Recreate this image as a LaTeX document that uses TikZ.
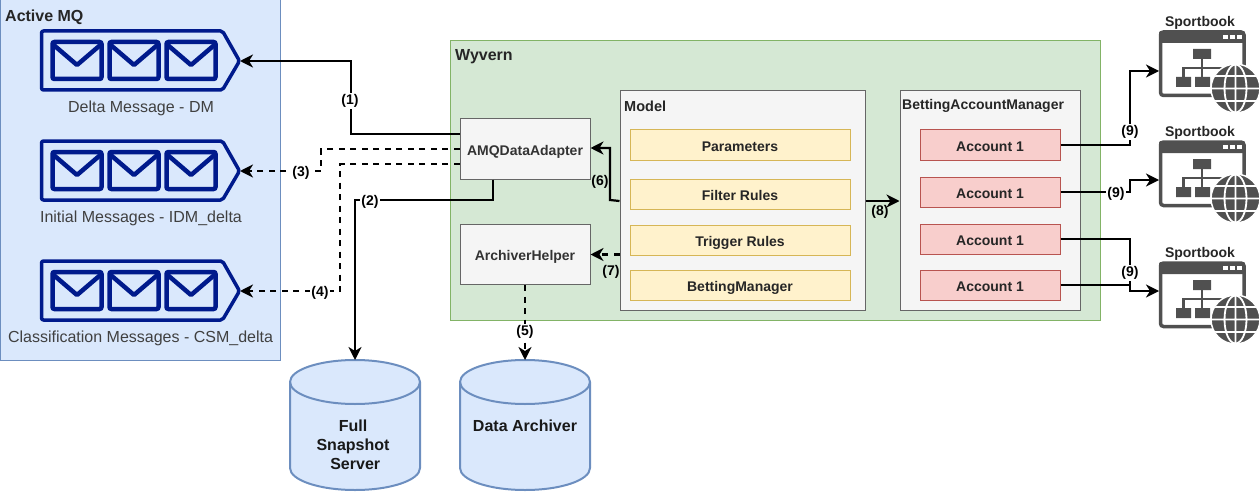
\documentclass[tikz,border=0pt]{standalone}
\usepackage{fontspec}
\setmainfont{Liberation Sans}
\usetikzlibrary{arrows.meta}
\definecolor{mqblue}{HTML}{DAE8FC}
\definecolor{mqedge}{HTML}{6C8EBF}
\definecolor{wyvfill}{HTML}{D5E8D4}
\definecolor{wyvedge}{HTML}{82B366}
\definecolor{rowyellow}{HTML}{FFF2CC}
\definecolor{rowyedge}{HTML}{D6B656}
\definecolor{rowred}{HTML}{F8CECC}
\definecolor{rowredge}{HTML}{B85450}
\definecolor{boxgrey}{HTML}{F5F5F5}
\definecolor{boxedge}{HTML}{666666}
\definecolor{navyicon}{HTML}{001A8C}
\definecolor{sitegrey}{HTML}{505050}
\tikzset{
	groupbox/.style={draw=#1, line width=1pt, inner sep=0pt},
	plainbox/.style={draw=boxedge, fill=boxgrey, line width=1pt, inner sep=0pt, minimum width=130pt, minimum height=60pt, text height=14pt, text depth=2pt, font=\bfseries\fontsize{14}{16}\selectfont, text=black!80},
	yellowrow/.style={draw=rowyedge, fill=rowyellow, line width=1pt, inner sep=0pt, minimum width=220pt, minimum height=30pt, text height=14pt, text depth=2pt, font=\bfseries\fontsize{14}{16}\selectfont, text=black!85},
	redrow/.style={draw=rowredge, fill=rowred, line width=1pt, inner sep=0pt, minimum width=140pt, minimum height=30pt, text height=14pt, text depth=2pt, font=\bfseries\fontsize{14}{16}\selectfont, text=black!85},
	titletext/.style={anchor=west, inner sep=0pt, font=\bfseries\fontsize{#1}{16}\selectfont, text=black!85},
	msgtext/.style={inner sep=0pt, font=\fontsize{16}{18}\selectfont, text=black!75},
	dbtext/.style={inner sep=0pt, align=center, font=\bfseries\fontsize{16}{19}\selectfont, text=black!90},
	link/.style={line width=2.2pt, -{Stealth[length=13pt,width=13pt,inset=4pt]}},
	nolink/.style={line width=2.2pt},
	dashlink/.style={dash pattern=on 6pt off 5.5pt},
	linklabel/.style={inner sep=1pt, font=\bfseries\fontsize{14}{16}\selectfont},
	pics/mailqueue/.style={code={
		\draw[navyicon, line width=3.5pt, rounded corners=2pt, line join=round] (0,0) -- (181,0) -- (198,30) -- (181,59) -- (0,59) -- cycle;
		\foreach \ex in {11,68,125}{
			\draw[navyicon, line width=4.5pt, rounded corners=2pt] (\ex,11) rectangle ++(49,37);
			\draw[navyicon, line width=4.5pt, line join=round] (\ex,13) -- ++(24.5,21) -- ++(24.5,-21);
		}
	}},
	pics/sitebook/.style={code={
		\draw[sitegrey, line width=3.5pt, rounded corners=3pt] (0.5,1) rectangle (84,64.5);
		\fill[sitegrey, rounded corners=2pt] (-1,0) rectangle (85,12);
		\foreach \dx in {63,70,77} \fill[white] (\dx,4) rectangle ++(5,4);
		\fill[sitegrey] (33,18) rectangle (51,28) (16,46) rectangle (31,56) (35,46) rectangle (50,56);
		\draw[sitegrey, line width=2.2pt] (42,28) -- (42,46) (23.5,46) -- (23.5,37) -- (62,37);
		\fill[sitegrey, draw=white, line width=1.5pt] (75.5,57.5) circle (24.5);
		\begin{scope}
			\clip (75.5,57.5) circle (24);
			\draw[white, line width=1.8pt] (75.5,57.5) ellipse (11 and 24) (75.5,33) -- (75.5,82) (50,57.5) -- (101,57.5) (53,45) -- (98,45) (53,70) -- (98,70);
		\end{scope}
	}},
	pics/datadrum/.style={code={
		\draw[mqedge, fill=mqblue, line width=2pt] (0,22) -- (0,108) arc[start angle=180, end angle=0, x radius=65, y radius=22] -- (130,22) arc[start angle=0, end angle=-180, x radius=65, y radius=22] -- cycle;
		\draw[mqedge, line width=2pt] (0,22) arc[start angle=180, end angle=0, x radius=65, y radius=22];
	}},
}
\begin{document}
\begin{tikzpicture}[x=1pt, y=-1pt]
			%%%%% groups %%%%%
			\useasboundingbox (0,0) rectangle (1260,492);
			
			\node[groupbox=mqedge, fill=mqblue, minimum width=280pt, minimum height=360pt] (activemq) at (140,180) {};
			\node[titletext=16] (activemqtitle) at (5,17) {Active MQ};
			
			\node[groupbox=wyvedge, fill=wyvfill, minimum width=650pt, minimum height=279pt] (wyvern) at (775,180.5) {};
			\node[titletext=16] (wyverntitle) at (455,57) {Wyvern};
			
			%%%%% queues %%%%%
			\pic at (41.5,31) {mailqueue};
			\pic at (41.5,141) {mailqueue};
			\pic at (41.5,261) {mailqueue};
			\coordinate (deltaq) at (240,61);
			\coordinate (initq) at (240,171);
			\coordinate (classq) at (240,291);
			\node[msgtext] (deltatext) at (141,108) {Delta Message - DM};
			\node[msgtext] (inittext) at (141,218) {Initial Messages - IDM\_delta};
			\node[msgtext] (classtext) at (140.5,338) {Classification Messages - CSM\_delta};
			
			%%%%% boxes %%%%%
			\node[plainbox] (amq) at (525,149) {AMQDataAdapter};
			\node[plainbox] (archiver) at (525,254.5) {ArchiverHelper};
			
			\node[groupbox=boxedge, fill=boxgrey, minimum width=245pt, minimum height=219pt] (model) at (742.5,200.5) {};
			\node[titletext=14.5] (modeltitle) at (624,106) {Model};
			\node[yellowrow] (params) at (740,145) {Parameters};
			\node[yellowrow] (filter) at (740,194) {Filter Rules};
			\node[yellowrow] (trigger) at (740,240) {Trigger Rules};
			\node[yellowrow] (betting) at (740,285) {BettingManager};
			
			\node[groupbox=boxedge, fill=boxgrey, minimum width=180pt, minimum height=219pt] (manager) at (990,200.5) {};
			\node[titletext=14] (managertitle) at (902,106) {BettingAccountManager};
			\node[redrow] (accta) at (990,145) {Account 1};
			\node[redrow] (acctb) at (990,192) {Account 1};
			\node[redrow] (acctc) at (990,239) {Account 1};
			\node[redrow] (acctd) at (990,285) {Account 1};
			
			%%%%% databases %%%%%
			\pic at (290,360) {datadrum};
			\pic at (460,360) {datadrum};
			\coordinate (fullsnap) at (355,360);
			\coordinate (dataarch) at (525,360);
			\node[dbtext] (fullsnaptext) at (353,445) {Full\\Snapshot\\\ Server};
			\node[dbtext] (dataarchtext) at (525,426) {Data Archiver};
			
			%%%%% sportbooks %%%%%
			\pic at (1160,31) {sitebook};
			\pic at (1160,141) {sitebook};
			\pic at (1160,262) {sitebook};
			\node[titletext=14, anchor=center] (sporta) at (1200,23) {Sportbook};
			\node[titletext=14, anchor=center] (sportb) at (1200,133) {Sportbook};
			\node[titletext=14, anchor=center] (sportc) at (1200,254) {Sportbook};
			\coordinate (sbooka) at (1159,71);
			\coordinate (sbookb) at (1159,180);
			\coordinate (sbookc) at (1159,291);
			
			%%%%% connectors %%%%%
			\draw[link] ([yshift=15pt]amq.west) -- (351,134) -- (351,61) -- (deltaq);
			\draw[link, dashlink] (amq.west) -- (321,149) -- (321,171) -- (initq);
			\draw[link, dashlink] ([yshift=-15pt]amq.west) -- (340,164) -- (340,291) -- (classq);
			\draw[link] ([xshift=-32pt]amq.south) -- (493,200) -| (fullsnap);
			\draw[link, dashlink] (archiver.south) -- (dataarch);
			\draw[link] ([yshift=-0.5pt]model.west) -- (610,200) -- (610,148) -- ([yshift=1pt]amq.east);
			\draw[link, dashlink] (model.west |- archiver.east) -- (archiver.east);
			\draw[link] ([yshift=-0.5pt]model.east) -- ([yshift=-0.5pt]manager.west);
			\draw[link] (accta.east) -- (1130,145) -- (1130,71) -- (sbooka);
			\draw[link] (acctb.east) -- (1130,192) -- (1130,180) -- (sbookb);
			\draw[nolink] (acctc.east) -- (1130,239) -- (1130,291);
			\draw[link] (acctd.east) -- (1130,285) -- (1130,291) -- (sbookc);
			
			%%%%% labels %%%%%
			\node[linklabel, fill=white] (labelone) at (350,101) {(1)};
			\node[linklabel, fill=white] (labeltwo) at (370,202) {(2)};
			\node[linklabel, fill=white] (labelthree) at (301,173) {(3)};
			\node[linklabel, fill=white] (labelfour) at (320,293) {(4)};
			\node[linklabel, fill=white] (labelfive) at (525,332) {(5)};
			\node[linklabel] (labelsix) at (600,182) {(6)};
			\node[linklabel] (labelseven) at (611,272) {(7)};
			\node[linklabel] (labeleight) at (880,212) {(8)};
			\node[linklabel, fill=white] (labelninea) at (1130,132) {(9)};
			\node[linklabel, fill=white] (labelnineb) at (1116,194) {(9)};
			\node[linklabel, fill=white] (labelninec) at (1130,273) {(9)};
\end{tikzpicture}
\end{document}
